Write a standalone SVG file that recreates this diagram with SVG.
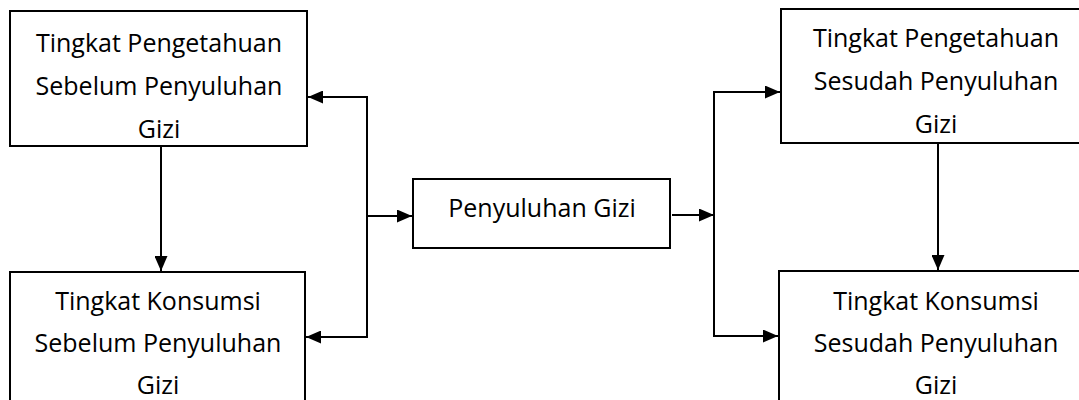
<svg xmlns="http://www.w3.org/2000/svg" width="1079" height="400" viewBox="0 0 1079 400">
<style>
.box{fill:#fff;stroke:#000;stroke-width:2}
.t{font-family:"Open Sans","Noto Sans",sans-serif;font-size:25px;fill:#000;text-anchor:middle}
.c{fill:none;stroke:#000;stroke-width:2}
</style>
<defs>
<marker id="ah" markerWidth="15" markerHeight="13" refX="15" refY="6.5" orient="auto" markerUnits="userSpaceOnUse">
<path d="M0,0 L15,6.5 L0,13 Z" fill="#000"/>
</marker>
</defs>
<g id="n1">
<rect class="box" x="10" y="11" width="297" height="135"/>
<text class="t" x="159" y="52">Tingkat Pengetahuan</text>
<text class="t" x="159" y="95">Sebelum Penyuluhan</text>
<text class="t" x="159" y="138">Gizi</text>
</g>
<g id="n2">
<rect class="box" x="10" y="272" width="295" height="140"/>
<text class="t" x="158" y="310">Tingkat Konsumsi</text>
<text class="t" x="158" y="352">Sebelum Penyuluhan</text>
<text class="t" x="158" y="394">Gizi</text>
</g>
<g id="n3">
<rect class="box" x="413" y="179" width="257" height="69"/>
<text class="t" x="542" y="217">Penyuluhan Gizi</text>
</g>
<g id="n4">
<rect class="box" x="781" y="9" width="310" height="134"/>
<text class="t" x="936" y="47">Tingkat Pengetahuan</text>
<text class="t" x="936" y="90">Sesudah Penyuluhan</text>
<text class="t" x="936" y="133">Gizi</text>
</g>
<g id="n5">
<rect class="box" x="779" y="271" width="312" height="140"/>
<text class="t" x="936" y="310">Tingkat Konsumsi</text>
<text class="t" x="936" y="352">Sesudah Penyuluhan</text>
<text class="t" x="936" y="394">Gizi</text>
</g>
<g id="connectors">
<line class="c" x1="161" y1="147" x2="161" y2="271" marker-end="url(#ah)"/>
<line class="c" x1="938" y1="144" x2="938" y2="270" marker-end="url(#ah)"/>
<line class="c" x1="367" y1="97" x2="367" y2="338"/>
<line class="c" x1="368" y1="97" x2="308" y2="97" marker-end="url(#ah)"/>
<line class="c" x1="368" y1="337" x2="306" y2="337" marker-end="url(#ah)"/>
<line class="c" x1="367" y1="216" x2="412" y2="216" marker-end="url(#ah)"/>
<line class="c" x1="672" y1="215" x2="714" y2="215" marker-end="url(#ah)"/>
<line class="c" x1="714" y1="91" x2="714" y2="337"/>
<line class="c" x1="713" y1="92" x2="780" y2="92" marker-end="url(#ah)"/>
<line class="c" x1="713" y1="336" x2="778" y2="336" marker-end="url(#ah)"/>
</g>
</svg>
